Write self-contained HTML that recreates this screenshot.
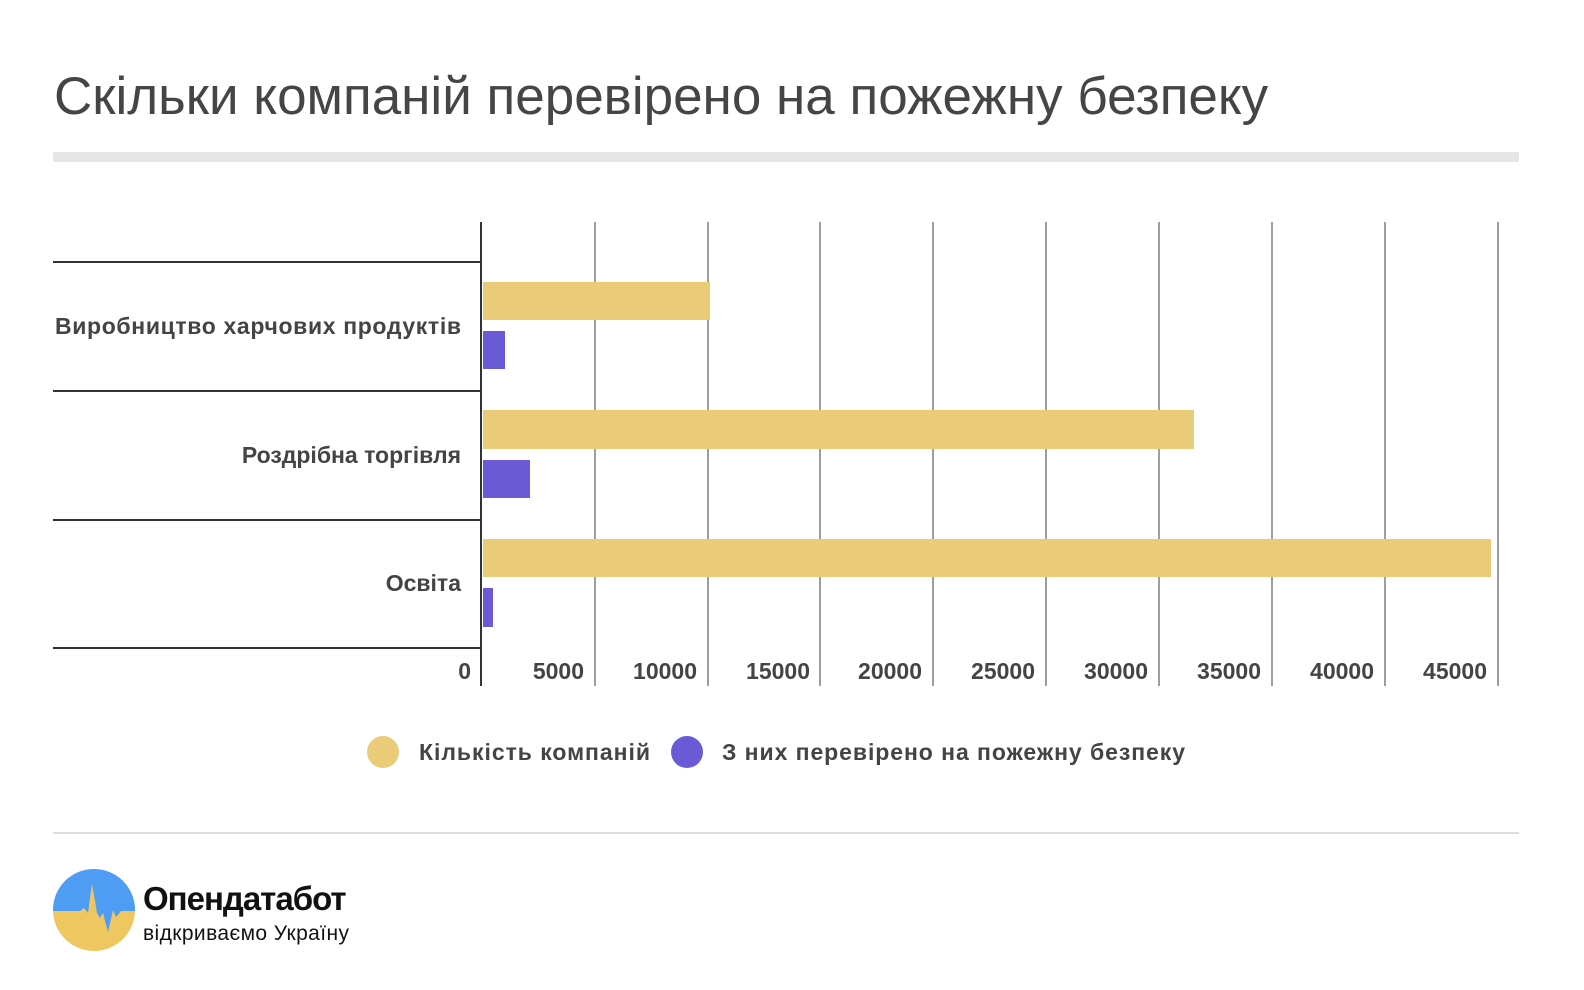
<!DOCTYPE html>
<html><head><meta charset="utf-8"><style>
body{margin:0;width:1584px;height:990px;background:#fff;font-family:"Liberation Sans",sans-serif;position:relative;overflow:hidden;color:#444}
.a{position:absolute}
</style></head><body>
<div class="a" style="left:54px;top:66px;font-size:53px;color:#454545;white-space:nowrap">Скільки компаній перевірено на пожежну безпеку</div>
<div class="a" style="left:53px;top:152px;width:1466px;height:10px;background:#e6e6e6"></div>
<svg class="a" style="left:0;top:0" width="1584" height="990">
<g stroke="#9e9e9e" stroke-width="2">
<line x1="595" y1="222" x2="595" y2="686"/><line x1="708" y1="222" x2="708" y2="686"/>
<line x1="820" y1="222" x2="820" y2="686"/><line x1="933" y1="222" x2="933" y2="686"/>
<line x1="1046" y1="222" x2="1046" y2="686"/><line x1="1159" y1="222" x2="1159" y2="686"/>
<line x1="1272" y1="222" x2="1272" y2="686"/><line x1="1385" y1="222" x2="1385" y2="686"/>
<line x1="1498" y1="222" x2="1498" y2="686"/>
</g>
<g stroke="#333" stroke-width="2">
<line x1="53" y1="262" x2="481" y2="262"/><line x1="53" y1="391" x2="481" y2="391"/>
<line x1="53" y1="520" x2="481" y2="520"/><line x1="53" y1="648" x2="481" y2="648"/>
<line x1="481" y1="222" x2="481" y2="686"/>
</g>
<g fill="#e9cb78">
<rect x="483" y="282" width="227" height="38"/><rect x="483" y="410" width="711" height="39"/><rect x="483" y="539" width="1008" height="38"/>
</g>
<g fill="#6a5ad6">
<rect x="483" y="331" width="22" height="38"/><rect x="483" y="460" width="47" height="38"/><rect x="483" y="588" width="10" height="39"/>
</g>
<g font-family="Liberation Sans,sans-serif" font-size="23" font-weight="bold" fill="#444" text-anchor="end">
<text x="461" y="334" textLength="406">Виробництво харчових продуктів</text>
<text x="461" y="463">Роздрібна торгівля</text>
<text x="461" y="591">Освіта</text>
</g>
<g font-family="Liberation Sans,sans-serif" font-size="23" font-weight="bold" fill="#444" text-anchor="end">
<text x="471" y="679">0</text><text x="584" y="679">5000</text><text x="697" y="679">10000</text>
<text x="810" y="679">15000</text><text x="922" y="679">20000</text><text x="1035" y="679">25000</text>
<text x="1148" y="679">30000</text><text x="1261" y="679">35000</text><text x="1374" y="679">40000</text>
<text x="1487" y="679">45000</text>
</g>
<circle cx="383" cy="752" r="16" fill="#e9cb78"/>
<circle cx="687" cy="752" r="16" fill="#6a5ad6"/>
<g font-family="Liberation Sans,sans-serif" font-size="23" font-weight="bold" fill="#444">
<text x="419" y="760" textLength="231">Кількість компаній</text>
<text x="722" y="760" textLength="463">З них перевірено на пожежну безпеку</text>
</g>
<line x1="53" y1="833" x2="1519" y2="833" stroke="#ddd" stroke-width="2"/>
<clipPath id="c"><circle cx="94" cy="910" r="41"/></clipPath>
<g clip-path="url(#c)">
<rect x="53" y="869" width="82" height="82" fill="#efc760"/>
<path d="M53 869 H135 V911 H121 L116 917 L113 910 L108 932 L103 913 L100 918 L97 913 L92 884 L88 913 L84 908 L80 911 H53Z" fill="#4f9cf5"/>
</g>
<text x="143" y="910" font-family="Liberation Sans,sans-serif" font-size="33" font-weight="bold" fill="#111" letter-spacing="-1">Опендатабот</text>
<text x="143" y="940" font-family="Liberation Sans,sans-serif" font-size="21" fill="#111" textLength="206">відкриваємо Україну</text>
</svg>
</body></html>
